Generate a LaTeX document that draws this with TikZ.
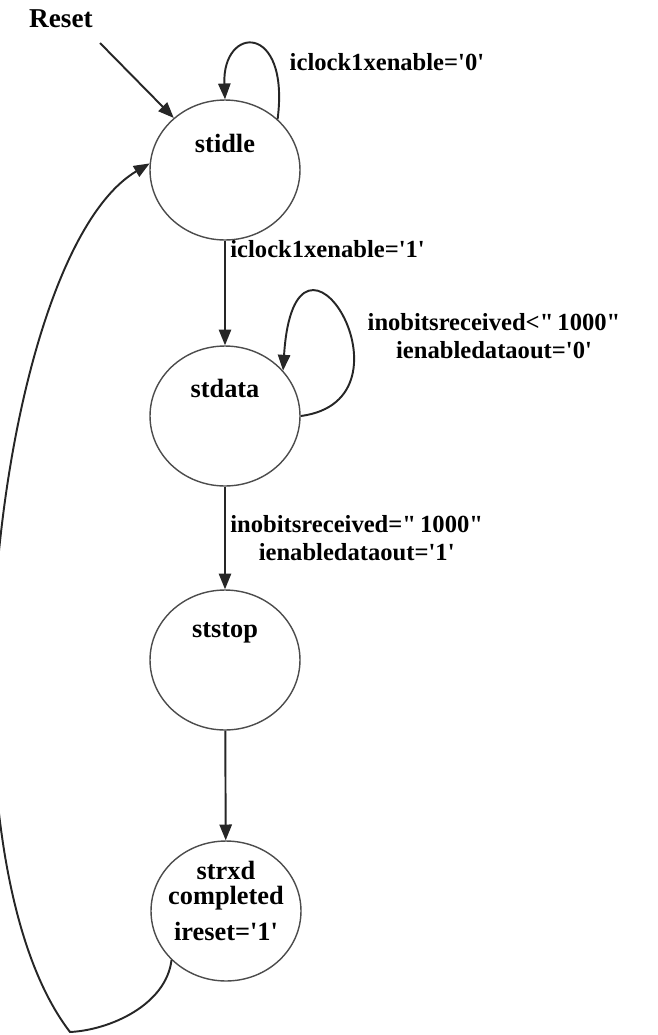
\documentclass[tikz,border=0pt]{standalone}
\usepackage{fontspec}
\setmainfont{Liberation Serif}
\usetikzlibrary{arrows.meta,shapes.geometric}
\newcommand{\sq}{\textquotesingle}
\newcommand{\dq}{\textquotedbl}

\begin{document}
\begin{tikzpicture}[x=0.02cm, y=-0.02cm,
		state/.style={draw=black!70, line width=0.8pt, ellipse, minimum width=3cm, minimum height=2.8cm, inner sep=0pt},
		statename/.style={font=\bfseries\fontsize{15}{14.5}\selectfont, align=center, inner sep=0pt},
		trans/.style={-{Triangle[length=9pt,width=7pt]}, line width=1.1pt, black!85},
		cond/.style={font=\bfseries\fontsize{14}{15.5}\selectfont, text=black, align=center, inner sep=2.5pt}]
		%%%%% START %%%%%
		
		\useasboundingbox (0, 0) rectangle (657, 1035);
		
		\node[state] (idle) at (225, 170) {};
		\node[state] (data) at (225, 416) {};
		\node[state] (stop) at (225, 660) {};
		\node[state] (rxd) at (226, 911) {};
		
		\node[statename] (idlename) at ([yshift=0.54cm]idle.center) {stidle};
		\node[statename] (dataname) at ([yshift=0.56cm]data.center) {stdata};
		\node[statename] (stopname) at ([yshift=0.54cm]stop.center) {ststop};
		\node[statename] (rxdname) at ([yshift=0.2cm]rxd.center) {strxd\\completed\\[6pt]ireset=\sq1\sq};
		
		\node[font=\bfseries\fontsize{15.5}{16}\selectfont, inner sep=0pt] (reset) at (61, 19) {Reset};
		\coordinate (rst) at (100, 43);
		\draw[trans] (rst) -- (idle);
		
		\draw[trans] (idle.44) .. controls (290, 22) and (222, 25) .. (idle.north);
		\node[cond, anchor=west] (cond0) at (285, 62) {iclock1xenable=\sq0\sq};
		
		\draw[trans] (idle) -- node[cond, pos=0.08, anchor=west] (cond1) {iclock1xenable=\sq1\sq} (data);
		
		\draw[trans] (data.east) .. controls (425, 400) and (295, 185) .. (data.38);
		\node[cond] (cond2) at (494, 336) {inobitsreceived<\dq\,1000\dq\\ienabledataout=\sq0\sq};
		
		\draw[trans] (data) -- node[cond, midway, right] (cond3) {inobitsreceived=\dq\,1000\dq\\ienabledataout=\sq1\sq} (stop);
		
		\draw[trans] (stop) -- (rxd);
		
		\draw[trans] (rxd.222) .. controls (166, 1005) and (110, 1030) .. (70, 1032)
			.. controls (-70, 850) and (-5, 255) .. (idle.175);
		
		%%%%% END %%%%%
\end{tikzpicture}
\end{document}
